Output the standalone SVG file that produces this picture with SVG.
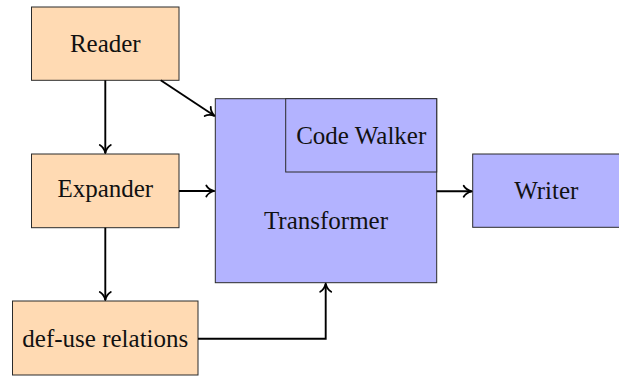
<svg xmlns="http://www.w3.org/2000/svg" width="619" height="376" viewBox="0 0 619 376">
  <style>
    .box { stroke: #2b2b2b; stroke-width: 1; }
    .orange { fill: #FFDAB3; }
    .blue { fill: #B3B3FF; }
    .label { font-family: "Liberation Serif", "Times New Roman", serif; font-size: 25px; fill: #111; text-anchor: middle; }
    .edge { fill: none; stroke: #000; stroke-width: 1.9; marker-end: url(#to); }
  </style>
  <defs>
    <!-- curved "to" style arrowhead -->
    <marker id="to" markerUnits="userSpaceOnUse" viewBox="-10 -7 12 14" refX="0" refY="0" markerWidth="12" markerHeight="14" orient="auto" overflow="visible">
      <path d="M-8,-5.5 C-6.4,-2.6 -2.8,-0.7 0,0 C-2.8,0.7 -6.4,2.6 -8,5.5" fill="none" stroke="#000" stroke-width="1.8" stroke-linecap="round" stroke-linejoin="round"/>
    </marker>
  </defs>

  <g id="reader">
    <rect class="box orange" x="31.5" y="7" width="147.5" height="73.3"/>
    <text class="label" x="105.3" y="52.3">Reader</text>
  </g>

  <g id="expander">
    <rect class="box orange" x="31.5" y="154" width="147.5" height="73.7"/>
    <text class="label" x="105.3" y="197.3">Expander</text>
  </g>

  <g id="defuse">
    <rect class="box orange" x="12.5" y="301" width="185.5" height="74"/>
    <text class="label" x="105.3" y="346.5">def-use relations</text>
  </g>

  <g id="transformer">
    <rect class="box blue" x="215.3" y="98.7" width="221.4" height="184"/>
    <text class="label" x="326" y="229">Transformer</text>
  </g>

  <g id="codewalker">
    <rect class="box blue" x="285.7" y="98.7" width="151" height="73.3"/>
    <text class="label" x="361.2" y="144">Code Walker</text>
  </g>

  <g id="writer">
    <rect class="box blue" x="472.7" y="154" width="147.5" height="73.3"/>
    <text class="label" x="546.3" y="199.3">Writer</text>
  </g>

  <g id="connectors">
    <path class="edge" d="M105.3,80.3 V153"/>
    <path class="edge" d="M105.3,227.7 V300"/>
    <path class="edge" d="M179,191 H214.3"/>
    <path class="edge" d="M160.7,80.3 L214.4,115.8"/>
    <path class="edge" d="M436.7,191.3 H471.7"/>
    <path class="edge" d="M198,338.7 H325.7 V283.7"/>
  </g>
</svg>
